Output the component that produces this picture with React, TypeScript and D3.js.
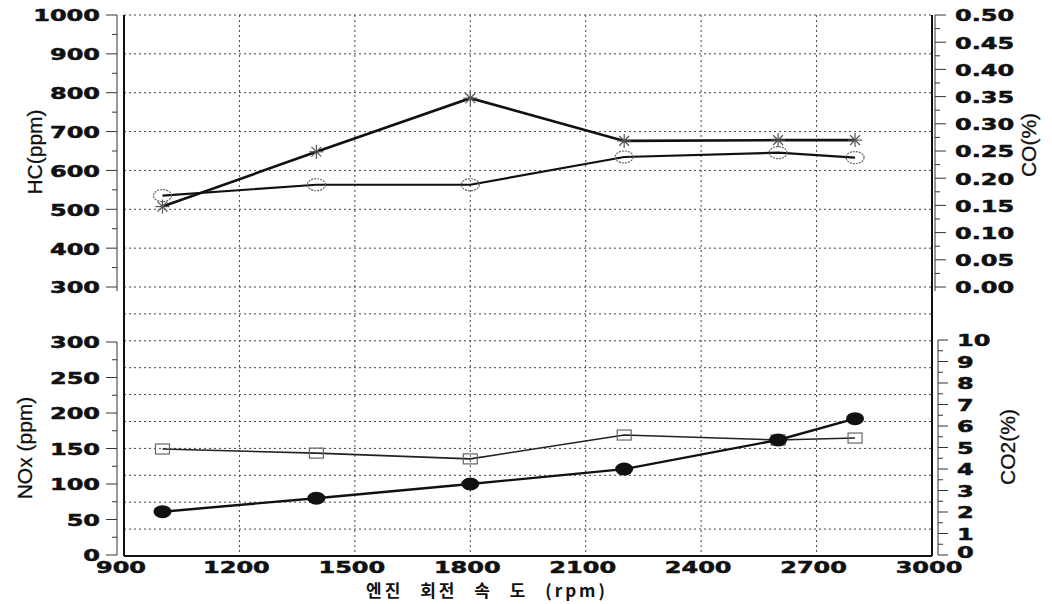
import React from "react";
import * as d3 from "d3";

// engine speed (rpm)
const rpm = [1000, 1400, 1800, 2200, 2600, 2800];
// upper panel
const hcPpm = [507, 648, 786, 676, 678, 678];
const coPct = [0.168, 0.188, 0.188, 0.239, 0.247, 0.238];
// lower panel
const noxPpm = [61, 80, 100, 121, 162, 192];
const co2Pct = [4.93, 4.74, 4.47, 5.58, 5.35, 5.44];

const xTicks = [900, 1200, 1500, 1800, 2100, 2400, 2700, 3000];
const hcTicks = [300, 400, 500, 600, 700, 800, 900, 1000];
const coTicks = [0, 0.05, 0.1, 0.15, 0.2, 0.25, 0.3, 0.35, 0.4, 0.45, 0.5];
const noxTicks = [0, 50, 100, 150, 200, 250, 300];
const co2Ticks = [0, 1, 2, 3, 4, 5, 6, 7, 8, 9, 10];

const W = 1052;
const H = 604;
const L = 124;
const R = 932;
const TOP = 15;
const MID = 287;
const BOT = 556;

const tickFont = "'DejaVu Sans', sans-serif";

function Num({ x, y, anchor, children }: any) {
  return (
    <text
      transform={`translate(${x},${y}) scale(1.5,1)`}
      textAnchor={anchor}
      dominantBaseline="central"
      fontFamily={tickFont}
      fontWeight="bold"
      fontSize={16}
      fill="#111"
      stroke="#111"
      strokeWidth={0.5}
    >
      {children}
    </text>
  );
}

function Star({ x, y }: any) {
  const r = 7;
  return (
    <g stroke="#555" strokeWidth={1.2}>
      <line x1={x - r} y1={y} x2={x + r} y2={y} />
      <line x1={x} y1={y - r} x2={x} y2={y + r} />
      <line x1={x - r * 0.7} y1={y - r * 0.7} x2={x + r * 0.7} y2={y + r * 0.7} />
      <line x1={x - r * 0.7} y1={y + r * 0.7} x2={x + r * 0.7} y2={y - r * 0.7} />
    </g>
  );
}

export default function App() {
  const x = d3.scaleLinear().domain([900, 3000]).range([L, R]);
  const yHC = d3.scaleLinear().domain([300, 1000]).range([MID, TOP]);
  const yCO = d3.scaleLinear().domain([0, 0.5]).range([MID, TOP]);
  const yNOx = d3.scaleLinear().domain([0, 300]).range([555, 342]);
  const yCO2 = d3.scaleLinear().domain([0, 10]).range([555, 340]);
  const yLowGrid = d3.scaleLinear().domain([0, 10]).range([BOT, MID]);

  const hcLine = d3.line<number>().x((_, i) => x(rpm[i])).y((d) => yHC(d))(hcPpm) || "";
  const coLine = d3.line<number>().x((_, i) => x(rpm[i])).y((d) => yCO(d))(coPct) || "";
  const noxLine = d3.line<number>().x((_, i) => x(rpm[i])).y((d) => yNOx(d))(noxPpm) || "";
  const co2Line = d3.line<number>().x((_, i) => x(rpm[i])).y((d) => yCO2(d))(co2Pct) || "";

  const grid = "#444";
  const dash = "2 3";

  const hcMinor = d3.range(300, 1001, 50);
  const coMinor = d3.range(0, 0.5001, 0.025);
  const noxMinor = d3.range(0, 301, 25);
  const co2Minor = d3.range(0, 10.01, 0.5);

  return (
    <svg
      width={W}
      height={H}
      style={{ position: "absolute", left: 0, top: 0, background: "#fff" }}
    >
      {/* grid */}
      <g stroke={grid} strokeWidth={1} strokeDasharray={dash}>
        {xTicks.slice(1, -1).map((t) => (
          <line key={"v" + t} x1={x(t)} x2={x(t)} y1={TOP} y2={BOT} />
        ))}
        {hcTicks.map((t) => (
          <line key={"h" + t} x1={L} x2={R} y1={yHC(t)} y2={yHC(t)} />
        ))}
        {d3.range(1, 10).map((t) => (
          <line key={"g" + t} x1={L} x2={R} y1={yLowGrid(t)} y2={yLowGrid(t)} />
        ))}
      </g>

      {/* frame */}
      <g stroke="#111" strokeWidth={2} fill="none">
        <line x1={L} x2={L} y1={TOP} y2={BOT} />
        <line x1={R} x2={R} y1={TOP} y2={BOT} />
        <line x1={L} x2={R} y1={BOT} y2={BOT} />
      </g>

      {/* left HC axis */}
      <g stroke="#333" strokeWidth={1}>
        <line x1={117} x2={117} y1={TOP} y2={MID + 4} />
        {hcMinor.map((t) => (
          <line key={t} x1={t % 100 === 0 ? 106 : 112} x2={117} y1={yHC(t)} y2={yHC(t)} />
        ))}
      </g>
      {hcTicks.map((t) => (
        <Num key={t} x={100} y={yHC(t) + 1} anchor="end">{t}</Num>
      ))}

      {/* right CO axis */}
      <g stroke="#333" strokeWidth={1}>
        <line x1={935} x2={935} y1={TOP} y2={MID + 4} />
        {coMinor.map((t, i) => (
          <line key={i} x1={935} x2={i % 2 === 0 ? 946 : 940} y1={yCO(t)} y2={yCO(t)} />
        ))}
      </g>
      {coTicks.map((t) => (
        <Num key={t} x={955} y={yCO(t) + 1} anchor="start">{d3.format(".2f")(t)}</Num>
      ))}

      {/* left NOx axis */}
      <g stroke="#333" strokeWidth={1}>
        <line x1={117} x2={117} y1={yNOx(300)} y2={yNOx(0)} />
        {noxMinor.map((t) => (
          <line key={t} x1={t % 50 === 0 ? 106 : 112} x2={117} y1={yNOx(t)} y2={yNOx(t)} />
        ))}
      </g>
      {noxTicks.map((t) => (
        <Num key={t} x={100} y={yNOx(t) + 1} anchor="end">{t}</Num>
      ))}

      {/* right CO2 axis */}
      <g stroke="#333" strokeWidth={1}>
        <line x1={938} x2={938} y1={yCO2(10)} y2={yCO2(0)} />
        {co2Minor.map((t, i) => (
          <line key={i} x1={938} x2={i % 2 === 0 ? 948 : 943} y1={yCO2(t)} y2={yCO2(t)} />
        ))}
      </g>
      {co2Ticks.map((t) => (
        <Num key={t} x={957} y={yCO2(t) - (t === 0 ? 2 : -1)} anchor="start">{t}</Num>
      ))}

      {/* x axis labels */}
      {xTicks.map((t) => (
        <Num key={t} x={x(t) - 3} y={568} anchor="middle">{t}</Num>
      ))}

      {/* axis titles */}
      <g fontFamily="'Liberation Sans', Arial, sans-serif" fontSize={21} fill="#111" stroke="#111" strokeWidth={0.3}>
        <text transform="translate(42,152) rotate(-90)" textAnchor="middle">HC(ppm)</text>
        <text transform="translate(1036,145) rotate(-90)" textAnchor="middle">CO(%)</text>
        <text transform="translate(32,448) rotate(-90)" textAnchor="middle">NOx (ppm)</text>
        <text transform="translate(1015,447) rotate(-90)" textAnchor="middle">CO2(%)</text>
      </g>
      <text
        x={487}
        y={597}
        textAnchor="middle"
        fontFamily="'Noto Sans CJK KR', sans-serif"
        fontWeight="bold"
        fontSize={17}
        letterSpacing={3}
        wordSpacing={10}
        fill="#111"
      >
        엔진 회전 속 도 (rpm)
      </text>

      {/* upper panel series */}
      <path d={hcLine} fill="none" stroke="#111" strokeWidth={2.6} />
      <path d={coLine} fill="none" stroke="#111" strokeWidth={2.2} />
      {coPct.map((d, i) => (
        <ellipse
          key={i}
          cx={x(rpm[i])}
          cy={yCO(d)}
          rx={9}
          ry={6}
          fill="none"
          stroke="#666"
          strokeWidth={1.2}
          strokeDasharray="2 1"
        />
      ))}
      {hcPpm.map((d, i) => (
        <Star key={i} x={x(rpm[i])} y={yHC(d)} />
      ))}

      {/* lower panel series */}
      <path d={co2Line} fill="none" stroke="#222" strokeWidth={1.6} />
      {co2Pct.map((d, i) => (
        <rect
          key={i}
          x={x(rpm[i]) - 7}
          y={yCO2(d) - 5}
          width={14}
          height={10}
          fill="none"
          stroke="#666"
          strokeWidth={1.2}
        />
      ))}
      <path d={noxLine} fill="none" stroke="#111" strokeWidth={2.4} />
      {noxPpm.map((d, i) => (
        <ellipse key={i} cx={x(rpm[i])} cy={yNOx(d)} rx={9} ry={6.5} fill="#111" />
      ))}
    </svg>
  );
}
